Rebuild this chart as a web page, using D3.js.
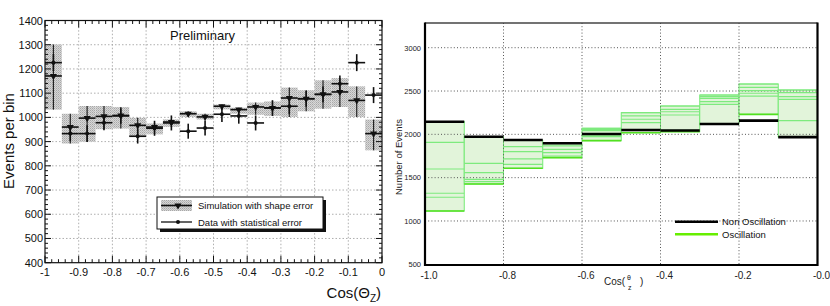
<!DOCTYPE html>
<html><head><meta charset="utf-8">
<script src="https://cdn.jsdelivr.net/npm/d3@7"></script>
<style>
body{margin:0;background:#fff;}
svg{display:block;font-family:"Liberation Sans",Arial,sans-serif;}
</style></head>
<body><svg id="c" width="830" height="306"></svg>
<script>
// ---------- LEFT CHART DATA ----------
const binLowL = [-1.00,-0.95,-0.90,-0.85,-0.80,-0.75,-0.70,-0.65,-0.60,-0.55,-0.50,-0.45,-0.40,-0.35,-0.30,-0.25,-0.20,-0.15,-0.10,-0.05];
const binWidthL = 0.05;
const simValue = [1171,960,997,1004,1008,967,960,981,1015,1002,1046,1032,1043,1039,1080,1077,1095,1105,1070,933];
const simLow   = [1032,892,899,951,954,919,930,961,1002,991,1033,1015,1011,1006,1002,1025,1036,1043,1002,864];
const simHigh  = [1301,1015,1047,1047,1043,998,975,992,1025,1015,1053,1040,1061,1066,1123,1112,1153,1162,1128,991];
const dataValue = [1226,933,933,978,1006,922,955,977,943,956,1013,1006,977,1039,1046,1077,1095,1139,1226,1092];
const dataErr   = [35,31,35,31,32,30,31,31,31,31,32,32,31,32,32,33,33,34,35,33];
const yTicksL = [400,500,600,700,800,900,1000,1100,1200,1300,1400];
const xTicksL = [-1,-0.9,-0.8,-0.7,-0.6,-0.5,-0.4,-0.3,-0.2,-0.1,0];
const xTickLabelsL = ["-1","-0.9","-0.8","-0.7","-0.6","-0.5","-0.4","-0.3","-0.2","-0.1","0"];

// ---------- RIGHT CHART DATA ----------
const binLowR = [-1.0,-0.9,-0.8,-0.7,-0.6,-0.5,-0.4,-0.3,-0.2,-0.1];
const binWidthR = 0.1;
const nonOsc = [2146,1973,1935,1897,2004,2050,2045,2119,2158,1968];
const oscMain = [1115,1427,1608,1731,1927,2019,2031,2119,2231,1972];
const oscVar1 = [2146,1970,1930,1893,2070,2250,2327,2454,2581,2512];
const oscVar2 = [1908,1666,1858,1866,2055,2212,2289,2435,2543,2481];
const oscVar3 = [1600,1557,1800,1827,2042,2174,2261,2416,2504,2435];
const oscVar4 = [1320,1481,1716,1789,1990,2135,2223,2377,2474,2404];
const oscVar5 = [1274,1454,1654,1750,1973,2050,2045,2347,2440,2158];
const yTicksR = [500,1000,1500,2000,2500,3000];
const xTicksR = [-1.0,-0.8,-0.6,-0.4,-0.2,0.0];
const xTickLabelsR = ["-1.0","-0.8","-0.6","-0.4","-0.2","-0.0"];

const svg = d3.select("#c");

// ================= LEFT =================
const xL = d3.scaleLinear().domain([-1,0]).range([45,382]);
const yL = d3.scaleLinear().domain([400,1400]).range([262.7,20.5]);
const gL = svg.append("g");

// grid
gL.selectAll("line.gy").data(yTicksL.slice(1,-1)).join("line")
  .attr("x1",xL(-1)).attr("x2",xL(0)).attr("y1",d=>yL(d)).attr("y2",d=>yL(d))
  .attr("stroke","#9a9a9a").attr("stroke-width",0.8).attr("stroke-dasharray","1.5,2");
gL.selectAll("line.gx").data(xTicksL.slice(1,-1)).join("line")
  .attr("y1",yL(400)).attr("y2",yL(1400)).attr("x1",d=>xL(d)).attr("x2",d=>xL(d))
  .attr("stroke","#9a9a9a").attr("stroke-width",0.8).attr("stroke-dasharray","1.5,2");

// pattern for shaded boxes
const defs = svg.append("defs");
const pat = defs.append("pattern").attr("id","hatch").attr("patternUnits","userSpaceOnUse")
  .attr("width",2).attr("height",2);
pat.append("rect").attr("width",2).attr("height",2).attr("fill","#d6d6d6");
pat.append("rect").attr("width",1).attr("height",1).attr("fill","#a8a8a8");
pat.append("rect").attr("x",1).attr("y",1).attr("width",1).attr("height",1).attr("fill","#bcbcbc");

const idx = d3.range(binLowL.length);
// sim boxes
gL.selectAll("rect.box").data(idx).join("rect")
  .attr("x",i=>xL(binLowL[i])).attr("width",i=>xL(binLowL[i]+binWidthL)-xL(binLowL[i]))
  .attr("y",i=>yL(simHigh[i])).attr("height",i=>yL(simLow[i])-yL(simHigh[i]))
  .attr("fill","url(#hatch)");
// sim vertical lines
gL.selectAll("line.sv").data(idx).join("line")
  .attr("x1",i=>xL(binLowL[i]+binWidthL/2)).attr("x2",i=>xL(binLowL[i]+binWidthL/2))
  .attr("y1",i=>yL(simHigh[i])).attr("y2",i=>yL(simLow[i]))
  .attr("stroke","#222").attr("stroke-width",1.2);
// sim horizontal
gL.selectAll("line.sh").data(idx).join("line")
  .attr("x1",i=>xL(binLowL[i])).attr("x2",i=>xL(binLowL[i]+binWidthL))
  .attr("y1",i=>yL(simValue[i])).attr("y2",i=>yL(simValue[i]))
  .attr("stroke","#111").attr("stroke-width",1.6);
// sim triangles
const tri = d3.symbol().type(d3.symbolTriangle).size(22);
gL.selectAll("path.st").data(idx).join("path")
  .attr("d",tri).attr("fill","#111")
  .attr("transform",i=>`translate(${xL(binLowL[i]+binWidthL/2)},${yL(simValue[i])}) rotate(180)`);
// data
gL.selectAll("line.dv").data(idx).join("line")
  .attr("x1",i=>xL(binLowL[i]+binWidthL/2)).attr("x2",i=>xL(binLowL[i]+binWidthL/2))
  .attr("y1",i=>yL(dataValue[i]+dataErr[i])).attr("y2",i=>yL(dataValue[i]-dataErr[i]))
  .attr("stroke","#111").attr("stroke-width",1.6);
gL.selectAll("line.dh").data(idx).join("line")
  .attr("x1",i=>xL(binLowL[i])).attr("x2",i=>xL(binLowL[i]+binWidthL))
  .attr("y1",i=>yL(dataValue[i])).attr("y2",i=>yL(dataValue[i]))
  .attr("stroke","#111").attr("stroke-width",1.6);
gL.selectAll("circle.dd").data(idx).join("circle")
  .attr("cx",i=>xL(binLowL[i]+binWidthL/2)).attr("cy",i=>yL(dataValue[i])).attr("r",2)
  .attr("fill","#111");

// frame
gL.append("rect").attr("x",xL(-1)).attr("y",yL(1400)).attr("width",xL(0)-xL(-1)).attr("height",yL(400)-yL(1400))
  .attr("fill","none").attr("stroke","#111").attr("stroke-width",1.2);

// ticks
const yMinorL = d3.range(400,1401,20);
const xMinorL = d3.range(0,51).map(k=>-1+k*0.02);
const tk = gL.append("g").attr("stroke","#111").attr("stroke-width",1);
yMinorL.forEach(v=>{
  const maj = v%100===0; const len = maj?6:3;
  tk.append("line").attr("x1",xL(-1)).attr("x2",xL(-1)+len).attr("y1",yL(v)).attr("y2",yL(v));
  tk.append("line").attr("x1",xL(0)).attr("x2",xL(0)-len).attr("y1",yL(v)).attr("y2",yL(v));
});
xMinorL.forEach((v,k)=>{
  const maj = k%5===0; const len = maj?7:3.5;
  tk.append("line").attr("y1",yL(400)).attr("y2",yL(400)-len).attr("x1",xL(v)).attr("x2",xL(v));
  tk.append("line").attr("y1",yL(1400)).attr("y2",yL(1400)+len).attr("x1",xL(v)).attr("x2",xL(v));
});

// tick labels
gL.selectAll("text.yl").data(yTicksL).join("text")
  .attr("x",43).attr("y",d=>yL(d)+4).attr("text-anchor","end")
  .attr("font-size",11).attr("fill","#111").text(d=>d);
gL.selectAll("text.xl").data(xTicksL).join("text")
  .attr("x",d=>xL(d)).attr("y",276).attr("text-anchor","middle")
  .attr("font-size",11).attr("fill","#111").text((d,i)=>xTickLabelsL[i]);

// axis titles
gL.append("text").attr("transform","translate(14,141) rotate(-90)").attr("text-anchor","middle")
  .attr("font-size",15).attr("fill","#111").text("Events per bin");
const xt = gL.append("text").attr("x",381).attr("y",298).attr("text-anchor","end")
  .attr("font-size",15).attr("fill","#111");
xt.append("tspan").text("Cos(Θ");
xt.append("tspan").attr("font-size",10).attr("dy",4).text("Z");
xt.append("tspan").attr("dy",-4).text(")");

gL.append("text").attr("x",170).attr("y",40).attr("font-size",13).attr("fill","#111").text("Preliminary");

// legend
const lg = gL.append("g");
lg.append("rect").attr("x",160).attr("y",200).attr("width",166).attr("height",32).attr("fill","#111");
lg.append("rect").attr("x",157).attr("y",197).attr("width",166).attr("height",32).attr("fill","#fff")
  .attr("stroke","#111").attr("stroke-width",1);
lg.append("rect").attr("x",161).attr("y",200).attr("width",31).attr("height",11).attr("fill","url(#hatch)");
lg.append("line").attr("x1",161).attr("x2",192).attr("y1",205.5).attr("y2",205.5).attr("stroke","#111").attr("stroke-width",1.6);
lg.append("path").attr("d",tri).attr("fill","#111").attr("transform","translate(178,205.5) rotate(180)");
lg.append("line").attr("x1",161).attr("x2",192).attr("y1",222).attr("y2",222).attr("stroke","#111").attr("stroke-width",1.3);
lg.append("circle").attr("cx",178).attr("cy",222).attr("r",2).attr("fill","#111");
lg.append("text").attr("x",198).attr("y",209).attr("font-size",9.5).attr("fill","#111").text("Simulation with shape error");
lg.append("text").attr("x",198).attr("y",226).attr("font-size",9.5).attr("fill","#111").text("Data with statistical error");

// ================= RIGHT =================
const xR = d3.scaleLinear().domain([-1,0]).range([425,817.5]);
const yR = d3.scaleLinear().domain([500,3000]).range([264.3,47.7]);
const gR = svg.append("g");
const idR = d3.range(binLowR.length);
const allOsc = [oscMain,oscVar1,oscVar2,oscVar3,oscVar4,oscVar5];

// band
gR.selectAll("rect.band").data(idR).join("rect")
  .attr("x",i=>xR(binLowR[i])).attr("width",i=>xR(binLowR[i]+binWidthR)-xR(binLowR[i]))
  .attr("y",i=>yR(d3.max(allOsc,s=>s[i]))).attr("height",i=>yR(d3.min(allOsc,s=>s[i]))-yR(d3.max(allOsc,s=>s[i])))
  .attr("fill","#e2f4da").attr("stroke","#74ea74").attr("stroke-width",1);

// grid
gR.selectAll("line.gy").data(yTicksR.slice(1)).join("line")
  .attr("x1",xR(-1)).attr("x2",xR(0)).attr("y1",d=>yR(d)).attr("y2",d=>yR(d))
  .attr("stroke","#555").attr("stroke-width",1).attr("stroke-dasharray","1,2.2");
gR.selectAll("line.gx").data(xTicksR.slice(1,-1)).join("line")
  .attr("x1",d=>xR(d)).attr("x2",d=>xR(d)).attr("y1",23).attr("y2",265)
  .attr("stroke","#555").attr("stroke-width",1).attr("stroke-dasharray","1,2.2");

// oscillation variant lines
[oscVar1,oscVar2,oscVar3,oscVar4,oscVar5].forEach(s=>{
  gR.append("g").selectAll("line").data(idR).join("line")
    .attr("x1",i=>xR(binLowR[i])).attr("x2",i=>xR(binLowR[i]+binWidthR))
    .attr("y1",i=>yR(s[i])).attr("y2",i=>yR(s[i]))
    .attr("stroke","#7eea7e").attr("stroke-width",1.2);
});
gR.append("g").selectAll("line").data(idR).join("line")
  .attr("x1",i=>xR(binLowR[i])).attr("x2",i=>xR(binLowR[i]+binWidthR))
  .attr("y1",i=>yR(oscMain[i])).attr("y2",i=>yR(oscMain[i]))
  .attr("stroke","#52e020").attr("stroke-width",1.6);

// non oscillation
gR.append("g").selectAll("line").data(idR).join("line")
  .attr("x1",i=>xR(binLowR[i])).attr("x2",i=>xR(binLowR[i]+binWidthR))
  .attr("y1",i=>yR(nonOsc[i])).attr("y2",i=>yR(nonOsc[i]))
  .attr("stroke","#000").attr("stroke-width",2.6);

// frame
gR.append("line").attr("x1",425).attr("x2",817.5).attr("y1",23).attr("y2",23).attr("stroke","#444").attr("stroke-width",1.5);
gR.append("path").attr("d","M425,22.5V265H817.5V22.5").attr("fill","none").attr("stroke","#000").attr("stroke-width",2.2);

// tick labels
gR.selectAll("text.yl").data(yTicksR).join("text")
  .attr("x",421).attr("y",d=>yR(d)+2.8).attr("text-anchor","end")
  .attr("font-size",7.5).attr("fill","#222").text(d=>d);
gR.selectAll("text.xl").data(xTicksR).join("text")
  .attr("x",d=>xR(d)+4).attr("y",278.5).attr("text-anchor","middle")
  .attr("font-size",10).attr("fill","#222").text((d,i)=>xTickLabelsR[i]);

// axis titles
gR.append("text").attr("transform","translate(402,157) rotate(-90)").attr("text-anchor","middle")
  .attr("font-size",9.5).attr("fill","#222").text("Number of Events");
gR.append("text").attr("x",604).attr("y",285).attr("font-size",10).attr("fill","#222").text("Cos(");
gR.append("text").attr("x",627).attr("y",279.5).attr("font-size",7).attr("fill","#222").text("θ");
gR.append("text").attr("x",628).attr("y",289.5).attr("font-size",7).attr("fill","#222").text("z");
gR.append("text").attr("x",640).attr("y",285).attr("font-size",10).attr("fill","#222").text(")");

// legend
gR.append("line").attr("x1",675).attr("x2",718).attr("y1",221.7).attr("y2",221.7).attr("stroke","#000").attr("stroke-width",2.5);
gR.append("line").attr("x1",675).attr("x2",718).attr("y1",234.3).attr("y2",234.3).attr("stroke","#66ee00").attr("stroke-width",2.5);
gR.append("text").attr("x",722).attr("y",225.2).attr("font-size",9.5).attr("fill","#111").text("Non Oscillation");
gR.append("text").attr("x",722).attr("y",237.8).attr("font-size",9.5).attr("fill","#111").text("Oscillation");
</script></body></html>
